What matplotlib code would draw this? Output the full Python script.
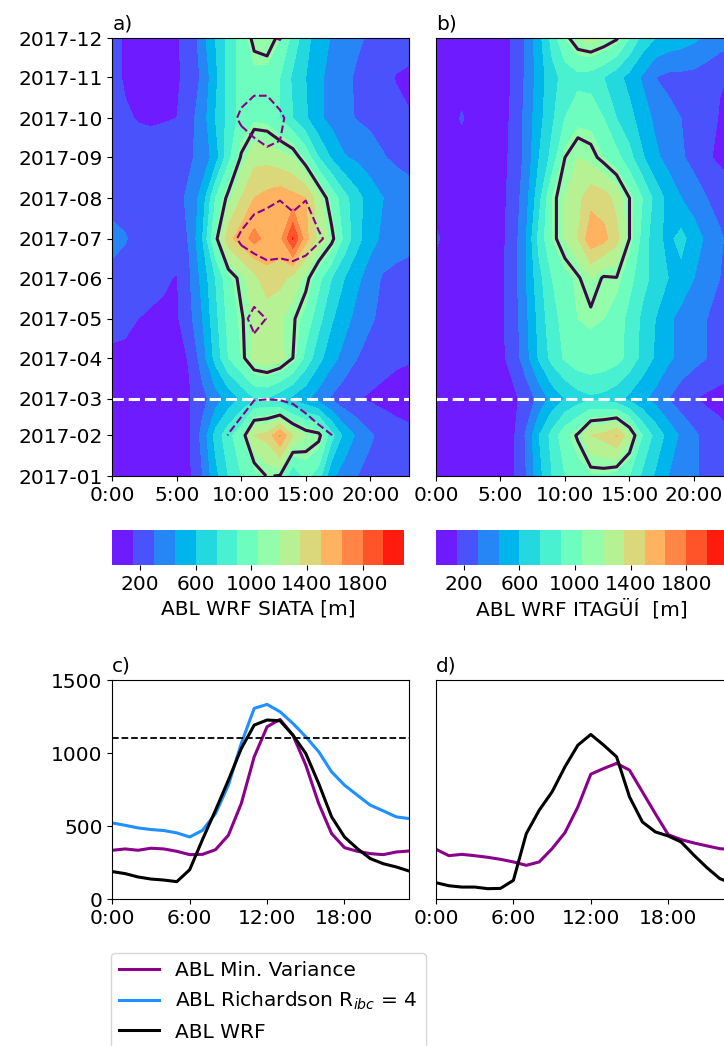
import numpy as np
import pandas as pd
import matplotlib
matplotlib.use("Agg")
import matplotlib.pyplot as plt
import matplotlib.dates as mdates

plt.rcParams["font.family"] = "DejaVu Sans"
plt.rcParams["font.size"] = 14.5

# Eixos: horas do dia e meses de 2017
hours = np.arange(24)
months = pd.date_range("2017-01-01", "2017-12-01", freq="MS")
month_num = mdates.date2num(months.to_pydatetime())

# Altura da CLA do WRF em SIATA [m] (linhas jan..dez, colunas 0..23 h)
abl_siata = np.array([
    [100, 100, 100, 100, 100, 110, 130, 300, 550, 750, 900, 980, 1110, 1090, 750, 950, 820, 480, 380, 300, 250, 220, 200, 190],
    [90, 90, 90, 90, 90, 100, 140, 350, 650, 850, 1000, 1350, 1400, 1660, 1350, 1200, 1150, 800, 550, 420, 320, 250, 200, 180],
    [80, 80, 80, 80, 80, 90, 140, 250, 380, 500, 620, 740, 740, 650, 560, 480, 380, 280, 200, 160, 130, 110, 100, 90],
    [100, 100, 100, 100, 100, 110, 160, 380, 650, 900, 1050, 1250, 1300, 1250, 1100, 850, 650, 500, 400, 300, 240, 200, 170, 160],
    [230, 200, 150, 130, 120, 130, 260, 450, 700, 950, 1080, 1220, 1250, 1220, 1120, 1000, 800, 620, 500, 400, 320, 260, 240, 230],
    [260, 240, 220, 200, 170, 140, 290, 500, 750, 1000, 1150, 1300, 1450, 1400, 1300, 1150, 950, 750, 600, 480, 380, 280, 250, 240],
    [340, 310, 250, 240, 240, 250, 310, 600, 1050, 1450, 1580, 1700, 1600, 1600, 1960, 1550, 1300, 1150, 850, 650, 500, 420, 380, 350],
    [250, 240, 240, 240, 240, 260, 330, 520, 900, 1150, 1350, 1500, 1550, 1600, 1550, 1500, 1250, 1000, 800, 650, 520, 450, 400, 360],
    [220, 220, 220, 220, 220, 230, 280, 350, 520, 850, 1120, 1300, 1300, 1250, 1200, 1000, 750, 580, 460, 420, 380, 310, 270, 250],
    [220, 170, 140, 130, 140, 150, 250, 380, 600, 800, 950, 1020, 1000, 900, 750, 620, 480, 400, 330, 290, 260, 240, 200, 160],
    [200, 130, 100, 100, 110, 130, 200, 330, 560, 800, 950, 1000, 980, 900, 720, 600, 480, 400, 330, 280, 250, 200, 140, 120],
    [200, 130, 100, 100, 100, 145, 170, 400, 600, 800, 950, 1150, 1200, 1050, 850, 650, 520, 440, 380, 320, 280, 260, 240, 220],
])

# Altura da CLA do WRF em Itagüí [m]
abl_itagui = np.array([
    [80, 80, 80, 80, 80, 90, 130, 300, 550, 750, 900, 980, 1030, 1030, 980, 900, 720, 580, 450, 380, 320, 260, 220, 200],
    [80, 80, 80, 80, 80, 90, 130, 320, 600, 800, 1000, 1120, 1350, 1400, 1510, 1250, 900, 700, 550, 420, 330, 250, 200, 150],
    [80, 80, 80, 80, 80, 90, 120, 200, 350, 500, 600, 680, 720, 700, 650, 560, 480, 400, 300, 220, 160, 120, 100, 90],
    [100, 100, 100, 100, 100, 120, 200, 400, 620, 800, 920, 1000, 1020, 1000, 950, 850, 700, 580, 480, 400, 350, 300, 250, 220],
    [100, 100, 100, 100, 100, 120, 220, 420, 650, 850, 950, 1050, 1060, 1050, 980, 850, 720, 600, 480, 400, 350, 300, 250, 220],
    [100, 100, 100, 100, 100, 120, 230, 450, 700, 900, 1000, 1080, 1200, 1080, 1095, 950, 800, 700, 600, 550, 450, 380, 300, 250],
    [170, 100, 100, 100, 100, 110, 220, 450, 800, 1050, 1200, 1350, 1600, 1550, 1400, 1100, 850, 650, 560, 650, 520, 420, 320, 250],
    [100, 100, 100, 100, 100, 110, 200, 400, 700, 1050, 1200, 1300, 1450, 1420, 1300, 1100, 900, 700, 550, 450, 380, 300, 250, 200],
    [100, 100, 100, 100, 100, 110, 180, 350, 600, 800, 1100, 1200, 1150, 1050, 950, 800, 620, 480, 400, 320, 250, 170, 120, 110],
    [100, 100, 160, 100, 100, 110, 170, 350, 550, 720, 900, 1000, 1000, 900, 750, 650, 520, 420, 350, 300, 250, 200, 140, 120],
    [100, 100, 100, 100, 100, 110, 160, 330, 520, 700, 800, 850, 830, 750, 650, 550, 430, 300, 260, 260, 250, 220, 160, 140],
    [100, 100, 100, 100, 100, 110, 160, 320, 550, 800, 1050, 1200, 1250, 1200, 1120, 900, 700, 600, 550, 520, 480, 420, 380, 350],
])

# CLA por mínima variância observada em SIATA [m] (janeiro sem dados)
abl_obs_siata = np.array([
    [np.nan] * 24,
    [330, 340, 330, 345, 340, 325, 300, 500, 950, 1110, 1200, 1300, 1350, 1350, 1300, 1250, 1150, 1105, 900, 500, 400, 350, 330, 330],
    [330, 340, 330, 345, 340, 325, 300, 400, 700, 900, 1000, 1090, 1095, 1090, 1067, 1000, 980, 800, 500, 400, 350, 330, 330, 330],
    [330, 340, 330, 345, 340, 325, 300, 320, 400, 600, 850, 930, 950, 900, 850, 750, 600, 450, 350, 330, 310, 300, 320, 330],
    [330, 340, 330, 345, 340, 325, 300, 320, 450, 700, 1000, 1200, 1090, 950, 900, 800, 650, 450, 350, 330, 310, 300, 320, 330],
    [330, 340, 330, 345, 340, 325, 300, 320, 450, 700, 850, 855, 977, 950, 950, 900, 700, 450, 350, 330, 310, 300, 320, 330],
    [330, 340, 330, 345, 340, 325, 300, 350, 600, 1000, 1150, 1250, 1250, 1250, 1300, 1250, 1150, 1000, 600, 400, 330, 300, 320, 330],
    [330, 340, 330, 345, 340, 325, 300, 320, 450, 700, 900, 1000, 1050, 1090, 1000, 1090, 900, 600, 400, 330, 310, 300, 320, 330],
    [330, 340, 330, 345, 340, 325, 300, 320, 450, 700, 900, 1000, 1063, 1063, 950, 800, 600, 450, 350, 330, 310, 300, 320, 330],
    [330, 340, 330, 345, 340, 325, 300, 320, 450, 1000, 1150, 1200, 1200, 1150, 1000, 800, 600, 450, 350, 330, 310, 300, 320, 330],
    [330, 340, 330, 345, 340, 325, 300, 320, 450, 700, 950, 1018, 1018, 900, 850, 750, 600, 450, 350, 330, 310, 300, 320, 330],
    [330, 340, 330, 345, 340, 325, 300, 320, 450, 700, 900, 1000, 1080, 1110, 1000, 800, 600, 450, 350, 330, 310, 300, 320, 330],
])

# Ciclos diurnos médios [m]
c_minvar = [334, 343, 334, 348, 343, 327, 304, 306, 338, 437, 654, 974, 1180, 1230, 1123, 917, 654, 448, 352, 327, 311, 304, 322, 329]
c_richardson = [521, 505, 487, 476, 469, 453, 425, 471, 585, 780, 1066, 1306, 1333, 1283, 1203, 1111, 1009, 871, 780, 711, 643, 604, 563, 551]
c_wrf = [188, 174, 151, 137, 130, 119, 201, 409, 608, 814, 1031, 1191, 1226, 1221, 1123, 997, 791, 563, 425, 345, 277, 242, 220, 192]
d_minvar = [341, 297, 306, 297, 286, 272, 254, 231, 254, 345, 455, 631, 855, 894, 929, 883, 734, 585, 441, 407, 384, 364, 345, 338]
d_wrf = [112, 91, 82, 82, 71, 73, 128, 448, 608, 734, 906, 1054, 1127, 1054, 974, 700, 528, 460, 432, 391, 300, 215, 140, 105]

levels = np.arange(0, 2101, 150)
limite = 1100
corte = mdates.date2num(pd.Timestamp("2017-03-01").to_pydatetime())

fig = plt.figure(figsize=(7.24, 10.46), dpi=100)
W = 0.4098
ax_a = fig.add_axes([0.1551, 0.5449, W, 0.4187])
ax_b = fig.add_axes([0.6022, 0.5449, W, 0.4187])
cax_a = fig.add_axes([0.1551, 0.4598, 0.4033, 0.0335])
cax_b = fig.add_axes([0.6022, 0.4598, 0.4033, 0.0335])
ax_c = fig.add_axes([0.1551, 0.1405, W, 0.2094])
ax_d = fig.add_axes([0.6022, 0.1405, W, 0.2094])

X, Y = np.meshgrid(hours, month_num)

# Mapas hora x mês
for ax, campo, cax, rotulo, titulo in [
    (ax_a, abl_siata, cax_a, "ABL WRF SIATA [m]", "a)"),
    (ax_b, abl_itagui, cax_b, "ABL WRF ITAGÜÍ  [m]", "b)"),
]:
    cs = ax.contourf(X, Y, campo, levels=levels, cmap="rainbow")
    ax.contour(X, Y, campo, levels=[limite], colors="#3b0a45", linewidths=2.2)
    ax.axhline(corte, color="white", ls="--", lw=2.2)
    ax.set_xticks([0, 5, 10, 15, 20])
    ax.set_xticklabels(["%d:00" % h for h in [0, 5, 10, 15, 20]])
    ax.set_xlim(0, 23)
    ax.set_ylim(month_num[0], month_num[-1])
    ax.set_title(titulo, loc="left", fontsize=14.5)
    cb = fig.colorbar(cs, cax=cax, orientation="horizontal", ticks=[200, 600, 1000, 1400, 1800])
    cb.outline.set_visible(False)
    cb.set_label(rotulo, fontsize=14.5)

ax_a.contour(X, Y, np.ma.masked_invalid(abl_obs_siata), levels=[limite],
             colors="darkmagenta", linewidths=1.5, linestyles="--")
ax_a.yaxis.set_major_locator(mdates.MonthLocator())
ax_a.yaxis.set_major_formatter(mdates.DateFormatter("%Y-%m"))
ax_b.tick_params(left=False, labelleft=False)

# Ciclos diurnos
ax_c.plot(hours, c_minvar, color="darkmagenta", lw=2.2, label="ABL Min. Variance")
ax_c.plot(hours, c_richardson, color="dodgerblue", lw=2.2, label="ABL Richardson R$_{ibc}$ = 4")
ax_c.plot(hours, c_wrf, color="black", lw=2.2, label="ABL WRF")
ax_c.axhline(limite, color="black", ls="--", lw=1.3)
ax_c.set_yticks([0, 500, 1000, 1500])
ax_c.set_title("c)", loc="left", fontsize=14.5)

ax_d.plot(hours, d_minvar, color="darkmagenta", lw=2.2)
ax_d.plot(hours, d_wrf, color="black", lw=2.2)
ax_d.tick_params(left=False, labelleft=False)
ax_d.set_title("d)", loc="left", fontsize=14.5)

for ax in [ax_c, ax_d]:
    ax.set_xlim(0, 23)
    ax.set_ylim(0, 1500)
    ax.set_xticks([0, 6, 12, 18])
    ax.set_xticklabels(["0:00", "6:00", "12:00", "18:00"])

handles, labels = ax_c.get_legend_handles_labels()
fig.legend(handles, labels, loc="upper left", bbox_to_anchor=(0.1533, 0.0889),
           fontsize=14.5, borderaxespad=0.0)

fig.savefig("out.png", dpi=100)
